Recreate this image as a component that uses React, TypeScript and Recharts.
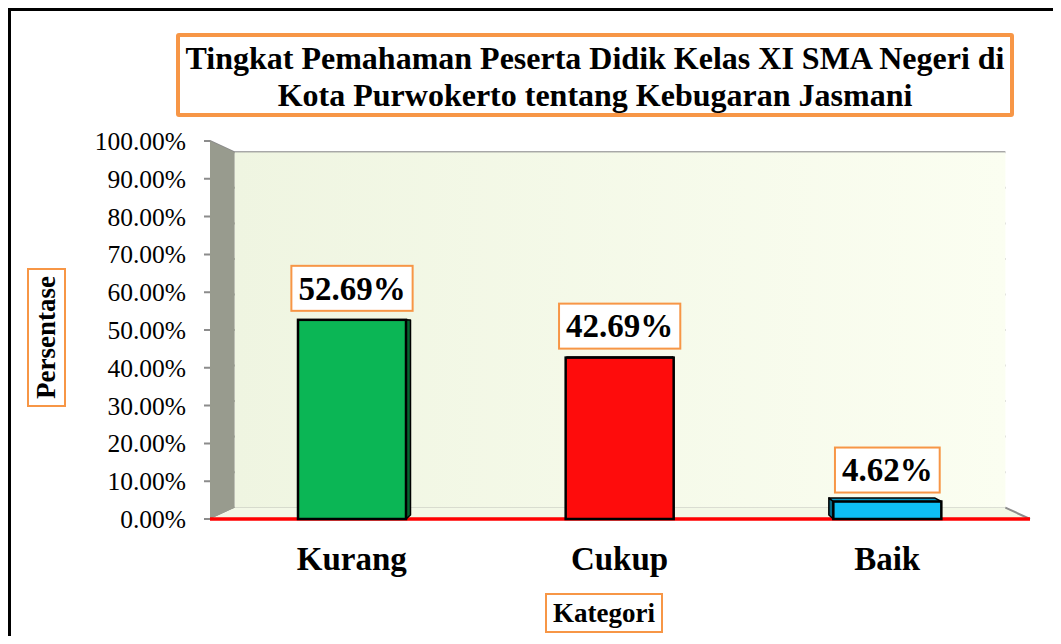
import { Bar, BarChart, CartesianGrid, Cell, LabelList, XAxis, YAxis } from 'recharts'

const categories = ['Kurang', 'Cukup', 'Baik']
const percentages = [52.69, 42.69, 4.62]
const barColors = ['#0bb655', '#fe0c0c', '#0ebef4']
const yTicks = [0, 10, 20, 30, 40, 50, 60, 70, 80, 90, 100]

const data = categories.map((name, i) => ({ name, value: percentages[i], color: barColors[i] }))

// layout of the chart inside the framed box
const CHART_W = 1050
const CHART_H = 625
const MARGIN = { top: 130, right: 31, bottom: 57, left: 0 }
const Y_AXIS_W = 199
const X_AXIS_H = 60
const PLOT_LEFT = MARGIN.left + Y_AXIS_W
const PLOT_RIGHT = CHART_W - MARGIN.right
const PLOT_TOP = MARGIN.top
const PLOT_BOTTOM = CHART_H - MARGIN.bottom - X_AXIS_H
const CX = (PLOT_LEFT + PLOT_RIGHT) / 2
const CY = (PLOT_TOP + PLOT_BOTTOM) / 2
const BACK_SCALE = 0.94
const BAR_DEPTH = 0.35

const serif = "'Times New Roman', 'Liberation Serif', serif"
const orange = '#f79646'
const gridGrey = '#8c8c8c'

// fake perspective: d = 0 is the front plane, d = 1 the back wall
function project(px: number, py: number, d: number): [number, number] {
  const k = 1 - (1 - BACK_SCALE) * d
  return [CX + (px - CX) * k, CY + (py - CY) * k]
}

function shade(hex: string, f: number) {
  const n = parseInt(hex.slice(1), 16)
  const r = Math.round(((n >> 16) & 255) * f)
  const g = Math.round(((n >> 8) & 255) * f)
  const b = Math.round((n & 255) * f)
  return `rgb(${r},${g},${b})`
}

function Walls() {
  const [bl, bt] = project(PLOT_LEFT, PLOT_TOP, 1)
  const [br, bb] = project(PLOT_RIGHT, PLOT_BOTTOM, 1)
  return (
    <g>
      <defs>
        <linearGradient id="wallFill" x1="0" y1="0" x2="1" y2="0">
          <stop offset="0%" stopColor="#eff5e1" />
          <stop offset="100%" stopColor="#fbfef1" />
        </linearGradient>
      </defs>
      <rect x={bl} y={bt} width={br - bl} height={bb - bt} fill="url(#wallFill)" />
      <polygon
        points={`${PLOT_LEFT},${PLOT_BOTTOM} ${bl},${bb} ${br},${bb} ${PLOT_RIGHT},${PLOT_BOTTOM}`}
        fill="#f3f8e7"
      />
      <polygon
        points={`${PLOT_LEFT},${PLOT_TOP} ${bl},${bt} ${bl},${bb} ${PLOT_LEFT},${PLOT_BOTTOM}`}
        fill="#989b8e"
      />
      <line x1={br} y1={bb} x2={PLOT_RIGHT} y2={PLOT_BOTTOM} stroke={gridGrey} strokeWidth={2} />
    </g>
  )
}

function GridLine(props: any) {
  const { x1, y1, x2 } = props
  const [bx1, by] = project(x1, y1, 1)
  const [bx2] = project(x2, y1, 1)
  return (
    <path
      d={`M${x1 - 6},${y1} L${x1},${y1} L${bx1},${by} L${bx2},${by}`}
      stroke={gridGrey}
      strokeWidth={2}
      fill="none"
    />
  )
}

function Bar3D(props: any) {
  const { x, y, width, height, fill } = props
  if (!height) return null
  const xr = x + width
  const yb = y + height
  const edge = x + width / 2 < CX ? xr : x
  const [s1x, s1y] = project(edge, y, BAR_DEPTH)
  const [s2x, s2y] = project(edge, yb, BAR_DEPTH)
  const [t1x, t1y] = project(x, y, BAR_DEPTH)
  const [t2x, t2y] = project(xr, y, BAR_DEPTH)
  return (
    <g>
      <polygon
        points={`${edge},${y} ${s1x},${s1y} ${s2x},${s2y} ${edge},${yb}`}
        fill={shade(fill, 0.55)}
        stroke="#000"
        strokeWidth={1.5}
        strokeLinejoin="round"
      />
      {y > CY && (
        <polygon
          points={`${x},${y} ${t1x},${t1y} ${t2x},${t2y} ${xr},${y}`}
          fill={shade(fill, 0.8)}
          stroke="#000"
          strokeWidth={1.5}
          strokeLinejoin="round"
        />
      )}
      <rect x={x} y={y} width={width} height={height} fill={fill} stroke="#000" strokeWidth={2.5} />
    </g>
  )
}

function ValueBadge(props: any) {
  const { x, y, width, value } = props
  const text = `${Number(value).toFixed(2)}%`
  const fs = 33
  let em = 0
  for (const ch of text) em += ch === '.' ? 0.25 : ch === '%' ? 1 : 0.5
  const w = em * fs + 14
  const h = 45
  const cx = x + width / 2
  const top = y - 9 - h
  return (
    <g>
      <rect x={cx - w / 2} y={top} width={w} height={h} fill="#fff" stroke={orange} strokeWidth={2} />
      <text
        x={cx}
        y={top + h / 2 + fs * 0.34}
        textAnchor="middle"
        fontFamily={serif}
        fontWeight="bold"
        fontSize={fs}
        fill="#000"
      >
        {text}
      </text>
    </g>
  )
}

export default function App() {
  return (
    <div
      style={{
        position: 'relative',
        width: 1053,
        height: 628,
        boxSizing: 'border-box',
        borderTop: '3px solid #000',
        borderLeft: '3px solid #000',
        background: '#fff',
        overflow: 'hidden',
        fontFamily: serif,
      }}
    >
      <BarChart width={CHART_W} height={CHART_H} data={data} margin={MARGIN}>
        <Walls />
        <CartesianGrid vertical={false} horizontal={(p: any) => <GridLine {...p} />} />
        <XAxis
          dataKey="name"
          height={X_AXIS_H}
          padding={{ left: 8, right: 9 }}
          axisLine={false}
          tickLine={false}
          tickSize={6}
          tickMargin={22}
          tick={{ fontSize: 33, fontWeight: 'bold', fill: '#000', fontFamily: serif }}
        />
        <YAxis
          width={Y_AXIS_W}
          domain={[0, 100]}
          ticks={yTicks}
          interval={0}
          axisLine={false}
          tickLine={false}
          tickSize={6}
          tickMargin={18}
          tickFormatter={(v: number) => `${v.toFixed(2)}%`}
          tick={{ fontSize: 25.5, fill: '#000', fontFamily: serif }}
        />
        <Bar dataKey="value" barSize={108} shape={<Bar3D />} isAnimationActive={false}>
          {data.map((d) => (
            <Cell key={d.name} fill={d.color} />
          ))}
          <LabelList dataKey="value" content={<ValueBadge />} />
        </Bar>
        <line
          x1={PLOT_LEFT}
          y1={PLOT_BOTTOM}
          x2={PLOT_RIGHT}
          y2={PLOT_BOTTOM}
          stroke="#ff0000"
          strokeWidth={3.5}
        />
      </BarChart>

      <div
        style={{
          position: 'absolute',
          left: 165,
          top: 22,
          width: 838,
          height: 84,
          boxSizing: 'border-box',
          border: `4px solid ${orange}`,
          borderRadius: 3,
          background: '#fff',
          display: 'flex',
          flexDirection: 'column',
          alignItems: 'center',
          justifyContent: 'center',
          paddingTop: 4,
          fontWeight: 'bold',
          fontSize: 32,
          lineHeight: '37px',
          color: '#000',
          textAlign: 'center',
          whiteSpace: 'nowrap',
        }}
      >
        <div>Tingkat Pemahaman Peserta Didik Kelas XI SMA Negeri di</div>
        <div>Kota Purwokerto tentang Kebugaran Jasmani</div>
      </div>

      <div
        style={{
          position: 'absolute',
          left: 16,
          top: 257,
          width: 39,
          height: 139,
          boxSizing: 'border-box',
          border: `2px solid ${orange}`,
          background: '#fff',
          display: 'flex',
          alignItems: 'center',
          justifyContent: 'center',
        }}
      >
        <div
          style={{
            writingMode: 'vertical-rl',
            transform: 'rotate(180deg)',
            fontWeight: 'bold',
            fontSize: 27,
            color: '#000',
            whiteSpace: 'nowrap',
          }}
        >
          Persentase
        </div>
      </div>

      <div
        style={{
          position: 'absolute',
          left: 534,
          top: 582,
          width: 118,
          height: 40,
          boxSizing: 'border-box',
          border: `2px solid ${orange}`,
          background: '#fff',
          display: 'flex',
          alignItems: 'center',
          justifyContent: 'center',
          fontWeight: 'bold',
          fontSize: 27,
          color: '#000',
        }}
      >
        Kategori
      </div>
    </div>
  )
}
